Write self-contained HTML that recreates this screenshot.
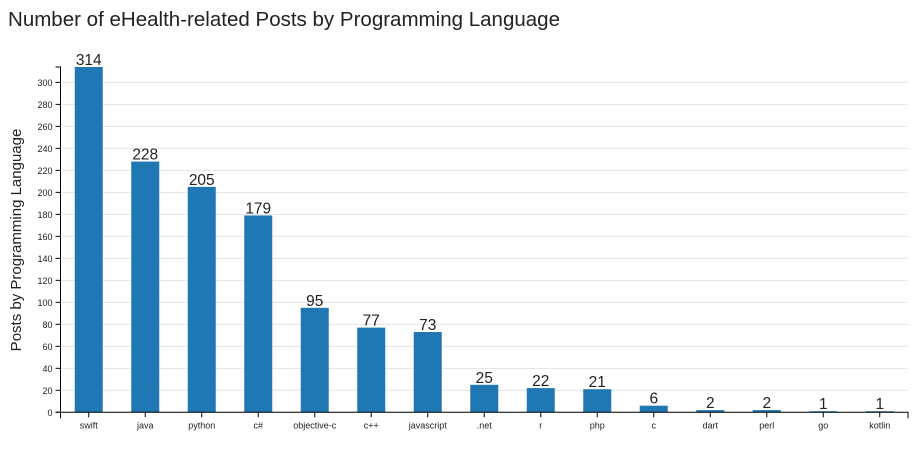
<!DOCTYPE html>
<html><head><meta charset="utf-8"><style>
body{margin:0;background:#fff;font-family:"Liberation Sans",sans-serif}
</style></head><body>
<svg width="923" height="446" id="svg">
<text x="8" y="26" font-size="20.5" fill="#222" textLength="552">Number of eHealth-related Posts by Programming Language</text>
<g id="grid"></g><g id="bars"></g><g id="axes"></g>
<text transform="translate(21,240) rotate(-90)" text-anchor="middle" font-size="15" fill="#222">Posts by Programming Language</text>
</svg>
<script>
const categories=["swift","java","python","c#","objective-c","c++","javascript",".net","r","php","c","dart","perl","go","kotlin"];
const values=[314,228,205,179,95,77,73,25,22,21,6,2,2,1,1];
const yTicks=[0,20,40,60,80,100,120,140,160,180,200,220,240,260,280,300];
const NS="http://www.w3.org/2000/svg";
const x0=60.5,x1=908,y0=412.3,yMax=314,yTop=67;
const band=(x1-x0)/categories.length;
const xc=i=>x0+band*(i+0.5);
const y=v=>y0-(y0-yTop)*v/yMax;
function mk(t,a,p){const e=document.createElementNS(NS,t);for(const k in a)e.setAttribute(k,a[k]);p.appendChild(e);return e;}
const grid=document.getElementById('grid'),bars=document.getElementById('bars'),axes=document.getElementById('axes');
yTicks.forEach(t=>{
 const l=mk('line',{x1:x0,x2:x1,y1:y(t),y2:y(t),stroke:'#e3e3e3','stroke-width':1},grid);
 
 
 mk('line',{x1:x0-5,x2:x0,y1:y(t),y2:y(t),stroke:'#000'},axes);
 const tx=mk('text',{x:x0-8,y:y(t)+3.5,'text-anchor':'end','font-size':9,fill:'#222'},axes);tx.textContent=t;
 
 
});
categories.forEach((c,i)=>{
 const w=28;
 const r=mk('rect',{x:xc(i)-w/2,y:y(values[i]),width:w,height:y0-y(values[i]),fill:'#1f77b4'},bars);
 
 
 const v=mk('text',{x:xc(i),y:y(values[i])-2,'text-anchor':'middle','font-size':15.5,fill:'#222'},bars);v.textContent=values[i];
 
 
 mk('line',{x1:xc(i),x2:xc(i),y1:y0,y2:y0+5,stroke:'#000'},axes);
 const t=mk('text',{x:xc(i),y:y0+16,'text-anchor':'middle','font-size':9,fill:'#222'},axes);t.textContent=c;
 
 
});
const ya=mk('path',{d:`M${x0-5},${yTop}H${x0}V${y0}H${x0-5}`,fill:'none',stroke:'#000'},axes);


const xa=mk('path',{d:`M${x0},${y0+6}V${y0}H${x1}V${y0+6}`,fill:'none',stroke:'#000'},axes);


</script>
</body></html>
